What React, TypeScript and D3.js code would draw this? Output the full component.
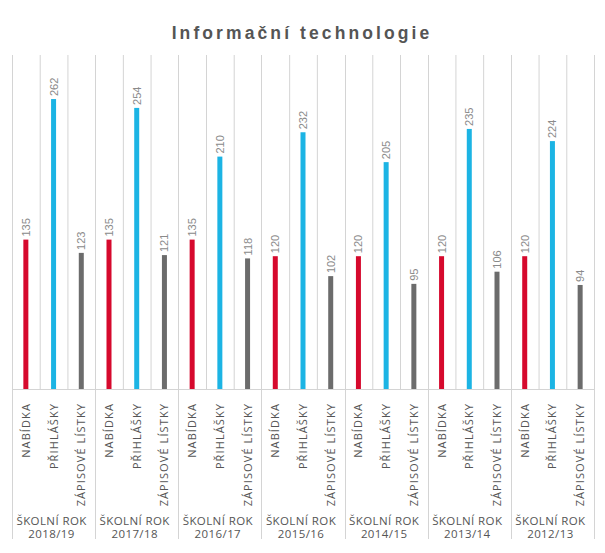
import React from "react";
import * as d3 from "d3";

const years = ["2018/19", "2017/18", "2016/17", "2015/16", "2014/15", "2013/14", "2012/13"];
const categories = ["NABÍDKA", "PŘIHLÁŠKY", "ZÁPISOVÉ LÍSTKY"];
const nabidka = [135, 135, 135, 120, 120, 120, 120];
const prihlasky = [262, 254, 210, 232, 205, 235, 224];
const zapisove = [123, 121, 118, 102, 95, 106, 94];
const colors = ["#d6092d", "#1cb4e4", "#6c6c6c"];

const W = 605;
const H = 553;

export default function App() {
  const series = [nabidka, prihlasky, zapisove];
  const cells: { key: string; year: number; cat: number; value: number }[] = [];
  years.forEach((y, i) => {
    categories.forEach((c, j) => {
      cells.push({ key: `${i}-${j}`, year: i, cat: j, value: series[j][i] });
    });
  });
  const x = d3.scaleBand<string>().domain(cells.map((d) => d.key)).range([12, 594]).padding(0);
  const y = d3.scaleLinear().domain([0, 300]).range([389, 57]);
  const bw = x.bandwidth();
  const groupW = bw * 3;
  const top = 55;
  const base = 389;
  const barW = 5;

  return (
    <svg width={W} height={H} style={{ position: "absolute", left: 0, top: 0 }}>
      <rect width={W} height={H} fill="#ffffff" />
      <text
        x={302}
        y={39}
        textAnchor="middle"
        fontFamily="Liberation Sans, Arial, sans-serif"
        fontWeight="bold"
        fontSize={17.5}
        letterSpacing={3.1}
        fill="#555555"
      >
        Informační technologie
      </text>
      {cells.map((d) =>
        d.cat === 0 ? null : (
          <line key={"g" + d.key} x1={x(d.key)! + 0.5} x2={x(d.key)! + 0.5} y1={top} y2={base} stroke="#d4d4d4" />
        )
      )}
      {d3.range(years.length + 1).map((i) => (
        <line key={"G" + i} x1={Math.round(12 + i * groupW) + 0.5} x2={Math.round(12 + i * groupW) + 0.5} y1={top} y2={539} stroke="#d4d4d4" />
      ))}
      <line x1={12} x2={594} y1={base + 0.5} y2={base + 0.5} stroke="#d4d4d4" />
      {cells.map((d) => {
        const cx = x(d.key)! + bw / 2;
        return (
          <g key={"b" + d.key}>
            <rect x={cx - barW / 2} y={y(d.value)} width={barW} height={base - y(d.value)} fill={colors[d.cat]} />
            <text
              transform={`translate(${cx + 4},${y(d.value) - 3}) rotate(-90)`}
              fontFamily="Liberation Sans, Arial, sans-serif"
              fontSize={11}
              fill="#8a8a8a"
              textAnchor="start"
            >
              {d.value}
            </text>
            <text
              transform={`translate(${cx + 4},403) rotate(-90)`}
              fontFamily="Open Sans, sans-serif"
              fontSize={11}
              letterSpacing={1.1}
              fill="#555555"
              textAnchor="end"
            >
              {categories[d.cat]}
            </text>
          </g>
        );
      })}
      {years.map((yr, i) => {
        const cx = 12 + i * groupW + groupW / 2 - 2;
        return (
          <g key={"y" + i} fontFamily="Open Sans, sans-serif" fontSize={11.5} fill="#555555" textAnchor="middle" letterSpacing={0.4}>
            <text x={cx} y={525}>ŠKOLNÍ ROK</text>
            <text x={cx} y={538}>{yr}</text>
          </g>
        );
      })}
    </svg>
  );
}
